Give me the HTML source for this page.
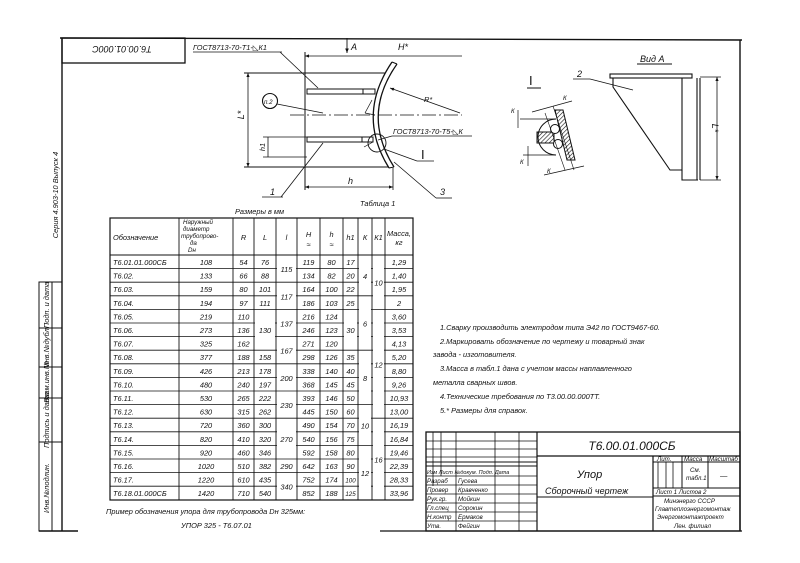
<!DOCTYPE html>
<html><head><meta charset="utf-8"><style>
html,body{margin:0;padding:0;background:#fff;}
svg{display:block;}
text{font-family:"Liberation Sans","DejaVu Sans",sans-serif;font-style:italic;fill:#111;}
.t{font-size:9px;}
.s{font-size:7.4px;}
.xs{font-size:6.2px;}
</style></head><body>
<svg width="800" height="563" viewBox="0 0 800 563" xmlns="http://www.w3.org/2000/svg">
<defs>
<marker id="ar" viewBox="0 0 10 10" refX="10" refY="5" markerWidth="7" markerHeight="5" orient="auto-start-reverse"><path d="M0,1 L10,5 L0,9 z" fill="#111"/></marker>
<pattern id="hat" width="3" height="3" patternUnits="userSpaceOnUse" patternTransform="rotate(45)"><line x1="0" y1="0" x2="0" y2="3" stroke="#111" stroke-width="1.2"/></pattern>
</defs>
<g stroke="#111" fill="none" stroke-width="1">
<line x1="60" y1="38" x2="742" y2="40" stroke-width="1.4"/>
<line x1="62" y1="38" x2="62" y2="531" stroke-width="1.4"/>
<line x1="740" y1="40" x2="740" y2="531" stroke-width="1.4"/>
<line x1="39" y1="531" x2="78" y2="531" stroke-width="1.4"/>
<line x1="380" y1="531" x2="742" y2="531" stroke-width="1.2"/>
<rect x="62" y="38" width="123" height="25" stroke-width="1.3"/>
<rect x="39" y="282" width="23" height="249"/>
<line x1="52" y1="282" x2="52" y2="531"/>
<line x1="39" y1="328" x2="62" y2="328"/>
<line x1="39" y1="367" x2="62" y2="367"/>
<line x1="39" y1="398" x2="62" y2="398"/>
<line x1="39" y1="442" x2="62" y2="442"/>

<line x1="305" y1="52" x2="305" y2="190"/>
<line x1="244" y1="73" x2="385" y2="73"/>
<line x1="244" y1="167" x2="388" y2="167"/>
<line x1="248" y1="73" x2="248" y2="167" marker-start="url(#ar)" marker-end="url(#ar)" stroke-width="0.8"/>
<rect x="307" y="89" width="68" height="5"/>
<line x1="363" y1="89" x2="363" y2="94"/>
<rect x="307" y="137" width="66" height="5"/>
<line x1="362" y1="137" x2="362" y2="142"/>
<line x1="263" y1="137" x2="307" y2="137" stroke-width="0.8"/>
<line x1="263" y1="157" x2="307" y2="157" stroke-width="0.8"/>
<line x1="268" y1="137" x2="268" y2="157" stroke-width="0.8"/>
<line x1="290" y1="115" x2="462" y2="115" stroke-dasharray="14,3,2,3" stroke-width="0.8"/>
<path d="M392,62 Q356,115 389,168" stroke-width="1.3"/>
<path d="M397,64 Q361,115 394,167" stroke-width="1.3"/>
<line x1="392" y1="62" x2="397" y2="64"/>
<line x1="389" y1="168" x2="394" y2="167"/>
<line x1="305" y1="56" x2="462" y2="56" marker-start="url(#ar)" stroke-width="0.8"/>
<line x1="347" y1="38" x2="347" y2="53" marker-end="url(#ar)" stroke-width="0.9"/>
<line x1="460" y1="113" x2="390" y2="88" marker-end="url(#ar)" stroke-width="0.8"/>
<line x1="193" y1="52" x2="282" y2="52" stroke-width="0.8"/>
<line x1="280" y1="52" x2="318" y2="88" stroke-width="0.8"/>
<circle cx="270" cy="101" r="7.5" stroke-width="1.1"/>
<line x1="277" y1="104" x2="323" y2="113" stroke-width="0.8"/>
<line x1="323" y1="143" x2="281" y2="197" stroke-width="0.8"/>
<line x1="262" y1="197" x2="283" y2="197" stroke-width="0.8"/>
<circle cx="377" cy="143" r="9" stroke-width="0.9"/>
<line x1="384" y1="149" x2="417" y2="161" stroke-width="0.8"/>
<line x1="417" y1="161" x2="434" y2="161" stroke-width="0.8"/>
<line x1="392" y1="136" x2="472" y2="136" stroke-width="0.8"/>
<line x1="392" y1="136" x2="378" y2="140" stroke-width="0.8"/>
<line x1="365" y1="113" x2="372" y2="100" stroke-width="0.7"/>
<line x1="365" y1="113" x2="375" y2="115" stroke-width="0.7"/>
<line x1="364" y1="147" x2="373" y2="142" stroke-width="0.7"/>
<line x1="305" y1="187" x2="393" y2="187" marker-start="url(#ar)" marker-end="url(#ar)" stroke-width="0.8"/>
<line x1="393" y1="168" x2="393" y2="190" stroke-width="0.8"/>
<line x1="394" y1="162" x2="436" y2="198" stroke-width="0.8"/>
<line x1="436" y1="198" x2="452" y2="198" stroke-width="0.8"/>

<line x1="527" y1="88" x2="541" y2="88"/>
<path d="M556,119 A18,18 0 0 0 556,155" stroke-width="1"/>
<line x1="520" y1="119" x2="556" y2="119" stroke-width="0.7"/>
<line x1="523" y1="155" x2="556" y2="155" stroke-width="0.7"/>
<rect x="537" y="132" width="17" height="11" fill="url(#hat)"/>
<polygon points="555,110 563,110 575,160 567,160" fill="url(#hat)"/>
<circle cx="555" cy="129" r="4.5" fill="#fff"/>
<circle cx="558" cy="144" r="4.5" fill="#fff"/>
<line x1="518" y1="110" x2="518" y2="128" stroke-width="0.7"/>
<line x1="528" y1="146" x2="528" y2="166" stroke-width="0.7"/>
<line x1="532" y1="112" x2="572" y2="101" stroke-width="0.7"/>
<line x1="544" y1="175" x2="584" y2="166" stroke-width="0.7"/>
<line x1="545" y1="113" x2="565" y2="170" stroke-width="0.6"/>
<line x1="553" y1="106" x2="574" y2="170" stroke-width="0.6"/>

<line x1="637" y1="64" x2="672" y2="64"/>
<rect x="610" y="74" width="82" height="4" stroke-width="1.1"/>
<polyline points="613,78 613,87 670,170 682,170 682,78" stroke-width="1.1"/>
<polyline points="682,170 682,180 698,180" stroke-width="1.1"/>
<line x1="697" y1="78" x2="697" y2="180" stroke-width="1.1"/>
<line x1="700" y1="78" x2="700" y2="180" stroke-width="1.1"/>
<line x1="700" y1="77" x2="721" y2="77" stroke-width="0.7"/>
<line x1="700" y1="180" x2="721" y2="180" stroke-width="0.7"/>
<line x1="717" y1="77" x2="717" y2="180" marker-start="url(#ar)" marker-end="url(#ar)" stroke-width="0.8"/>
<line x1="573" y1="79" x2="590" y2="79" stroke-width="0.8"/>
<line x1="590" y1="79" x2="633" y2="90" stroke-width="0.8"/>

<rect x="110" y="218" width="303" height="282" stroke-width="1.2"/>
<line x1="110" y1="255" x2="413" y2="255" stroke-width="1.1"/>
<g stroke-width="0.9">
<line x1="179" y1="218" x2="179" y2="500"/><line x1="233" y1="218" x2="233" y2="500"/>
<line x1="254" y1="218" x2="254" y2="500"/><line x1="276" y1="218" x2="276" y2="500"/>
<line x1="297" y1="218" x2="297" y2="500"/><line x1="320" y1="218" x2="320" y2="500"/>
<line x1="343" y1="218" x2="343" y2="500"/><line x1="358" y1="218" x2="358" y2="500"/>
<line x1="372" y1="218" x2="372" y2="500"/><line x1="385" y1="218" x2="385" y2="500"/>
</g>
<g stroke-width="0.8">
<line x1="110" y1="268.6" x2="413" y2="268.6"/><line x1="110" y1="282.2" x2="413" y2="282.2"/>
<line x1="110" y1="295.8" x2="413" y2="295.8"/><line x1="110" y1="309.4" x2="413" y2="309.4"/>
<line x1="110" y1="323" x2="413" y2="323"/><line x1="110" y1="336.6" x2="413" y2="336.6"/>
<line x1="110" y1="350.2" x2="413" y2="350.2"/><line x1="110" y1="363.8" x2="413" y2="363.8"/>
<line x1="110" y1="377.4" x2="413" y2="377.4"/><line x1="110" y1="391" x2="413" y2="391"/>
<line x1="110" y1="404.6" x2="413" y2="404.6"/><line x1="110" y1="418.2" x2="413" y2="418.2"/>
<line x1="110" y1="431.8" x2="413" y2="431.8"/><line x1="110" y1="445.4" x2="413" y2="445.4"/>
<line x1="110" y1="459" x2="413" y2="459"/><line x1="110" y1="472.6" x2="413" y2="472.6"/>
<line x1="110" y1="486.2" x2="413" y2="486.2"/>
</g>
</g>
<g fill="#fff">
<rect x="255" y="310.4" width="20" height="38.8"/>
<rect x="277" y="256" width="19" height="25.2"/>
<rect x="277" y="283.2" width="19" height="25.2"/>
<rect x="277" y="310.4" width="19" height="25.2"/>
<rect x="277" y="337.6" width="19" height="25.2"/>
<rect x="277" y="364.8" width="19" height="25.2"/>
<rect x="277" y="392" width="19" height="25.2"/>
<rect x="277" y="419.2" width="19" height="38.8"/>
<rect x="277" y="473.6" width="19" height="25.2"/>
<rect x="344" y="310.4" width="13" height="38.8"/>
<rect x="359" y="256" width="12" height="38.8"/>
<rect x="359" y="296.8" width="12" height="52.4"/>
<rect x="359" y="351.2" width="12" height="52.4"/>
<rect x="359" y="405.6" width="12" height="38.8"/>
<rect x="359" y="446.4" width="12" height="52.4"/>
<rect x="373" y="256" width="11" height="52.4"/>
<rect x="373" y="310.4" width="11" height="106.8"/>
<rect x="373" y="419.2" width="11" height="79.6"/>
</g>

<g stroke="#111" fill="none" stroke-width="1">
<rect x="426" y="432" width="314" height="99" stroke-width="1.3"/>
<line x1="537" y1="432" x2="537" y2="531" stroke-width="1.2"/>
<line x1="537" y1="456" x2="740" y2="456" stroke-width="1.2"/>
<line x1="653" y1="456" x2="653" y2="531" stroke-width="1.2"/>
<line x1="537" y1="497" x2="653" y2="497"/>
<line x1="653" y1="462" x2="740" y2="462"/>
<line x1="653" y1="488" x2="740" y2="488"/>
<line x1="653" y1="496" x2="740" y2="496"/>
<line x1="658" y1="462" x2="658" y2="488" stroke-width="0.8"/>
<line x1="666" y1="462" x2="666" y2="488" stroke-width="0.8"/>
<line x1="673" y1="462" x2="673" y2="488" stroke-width="0.8"/>
<line x1="682" y1="456" x2="682" y2="488"/>
<line x1="708" y1="456" x2="708" y2="488"/>
<g stroke-width="0.8">
<line x1="433" y1="432" x2="433" y2="486"/>
<line x1="441" y1="432" x2="441" y2="476"/>
<line x1="456" y1="432" x2="456" y2="531"/>
<line x1="495" y1="432" x2="495" y2="531"/>
<line x1="519" y1="432" x2="519" y2="531"/>
<line x1="426" y1="441" x2="537" y2="441"/>
<line x1="426" y1="449" x2="537" y2="449"/>
<line x1="426" y1="457" x2="537" y2="457"/>
<line x1="426" y1="462" x2="537" y2="462" stroke-width="1.1"/>
<line x1="426" y1="466" x2="537" y2="466" stroke-width="1.1"/>
<line x1="426" y1="476" x2="537" y2="476"/>
<line x1="426" y1="485" x2="537" y2="485"/>
<line x1="426" y1="494" x2="537" y2="494"/>
<line x1="426" y1="503" x2="537" y2="503"/>
<line x1="426" y1="512" x2="537" y2="512"/>
<line x1="426" y1="521" x2="537" y2="521"/>
</g>
</g>

<text x="122" y="52" class="t" font-size="10" text-anchor="middle" transform="rotate(180 122 49)">Т6.00.01.000С</text>
<text class="s" transform="translate(49 305) rotate(-90)" text-anchor="middle">Подп. и дата</text>
<text class="s" transform="translate(49 347) rotate(-90)" text-anchor="middle">Инв.№дубл.</text>
<text class="s" transform="translate(49 382) rotate(-90)" text-anchor="middle">Взам.инв.№</text>
<text class="s" transform="translate(49 420) rotate(-90)" text-anchor="middle">Подпись и дата</text>
<text class="s" transform="translate(49 488) rotate(-90)" text-anchor="middle">Инв.№подлин.</text>
<text class="s" transform="translate(58 195) rotate(-90)" text-anchor="middle">Серия 4.903-10    Выпуск 4</text>

<text x="193" y="50" class="s">ГОСТ8713-70-Т1-◺К1</text>
<text x="351" y="50" class="t">А</text>
<text x="398" y="50" class="t">Н*</text>
<text x="424" y="102" class="s">R*</text>
<text x="264" y="104" class="xs">п.2</text>
<text class="t" transform="translate(244 115) rotate(-90)" text-anchor="middle">L*</text>
<text class="s" transform="translate(265 147) rotate(-90)" text-anchor="middle">h1</text>
<text x="393" y="134" class="s">ГОСТ8713-70-Т5-◺К</text>
<text x="421" y="159" font-size="13" style="font-style:normal">I</text>
<text x="348" y="184" class="t">h</text>
<text x="270" y="195" class="t">1</text>
<text x="440" y="195" class="t">3</text>
<text x="360" y="206" class="s">Таблица 1</text>
<text x="235" y="214" class="s">Размеры в мм</text>

<text x="529" y="85" font-size="13" style="font-style:normal">I</text>
<text x="563" y="100" class="xs">К</text>
<text x="511" y="113" class="xs">К</text>
<text x="520" y="164" class="xs">К</text>
<text x="547" y="173" class="xs">К</text>
<text x="640" y="62" class="t">Вид А</text>
<text x="577" y="77" class="t">2</text>
<text class="t" transform="translate(712 128) rotate(90)" text-anchor="middle">L*</text>

<text x="113" y="240" class="s">Обозначение</text>
<text x="183" y="224" class="xs">Наружный</text>
<text x="183" y="231" class="xs">диаметр</text>
<text x="181" y="238" class="xs">трубопрово-</text>
<text x="190" y="245" class="xs">да</text>
<text x="188" y="252" class="xs">Dн</text>
<text x="243.5" y="240" class="s" text-anchor="middle">R</text>
<text x="265" y="240" class="s" text-anchor="middle">L</text>
<text x="286.5" y="240" class="s" text-anchor="middle">l</text>
<text x="308.5" y="237" class="s" text-anchor="middle">Н</text><text x="308.5" y="247" class="s" text-anchor="middle">≈</text>
<text x="331.5" y="237" class="s" text-anchor="middle">h</text><text x="331.5" y="247" class="s" text-anchor="middle">≈</text>
<text x="350.5" y="240" class="s" text-anchor="middle">h1</text>
<text x="365" y="240" class="s" text-anchor="middle">К</text>
<text x="378.5" y="240" class="s" text-anchor="middle">К1</text>
<text x="399" y="236" class="s" text-anchor="middle">Масса,</text>
<text x="399" y="245" class="s" text-anchor="middle">кг</text>

<text x="113" y="265" class="s">Т6.01.01.000СБ</text>
<text x="113" y="278.6" class="s">Т6.02.</text>
<text x="113" y="292.2" class="s">Т6.03.</text>
<text x="113" y="305.8" class="s">Т6.04.</text>
<text x="113" y="319.4" class="s">Т6.05.</text>
<text x="113" y="333" class="s">Т6.06.</text>
<text x="113" y="346.6" class="s">Т6.07.</text>
<text x="113" y="360.2" class="s">Т6.08.</text>
<text x="113" y="373.8" class="s">Т6.09.</text>
<text x="113" y="387.4" class="s">Т6.10.</text>
<text x="113" y="401" class="s">Т6.11.</text>
<text x="113" y="414.6" class="s">Т6.12.</text>
<text x="113" y="428.2" class="s">Т6.13.</text>
<text x="113" y="441.8" class="s">Т6.14.</text>
<text x="113" y="455.4" class="s">Т6.15.</text>
<text x="113" y="469" class="s">Т6.16.</text>
<text x="113" y="482.6" class="s">Т6.17.</text>
<text x="113" y="496.2" class="s">Т6.18.01.000СБ</text>
<g text-anchor="middle">
<text x="206" y="265" class="s">108</text><text x="206" y="278.6" class="s">133</text><text x="206" y="292.2" class="s">159</text><text x="206" y="305.8" class="s">194</text><text x="206" y="319.4" class="s">219</text><text x="206" y="333" class="s">273</text><text x="206" y="346.6" class="s">325</text><text x="206" y="360.2" class="s">377</text><text x="206" y="373.8" class="s">426</text><text x="206" y="387.4" class="s">480</text><text x="206" y="401" class="s">530</text><text x="206" y="414.6" class="s">630</text><text x="206" y="428.2" class="s">720</text><text x="206" y="441.8" class="s">820</text><text x="206" y="455.4" class="s">920</text><text x="206" y="469" class="s">1020</text><text x="206" y="482.6" class="s">1220</text><text x="206" y="496.2" class="s">1420</text>

<text x="243.5" y="265" class="s">54</text><text x="243.5" y="278.6" class="s">66</text><text x="243.5" y="292.2" class="s">80</text><text x="243.5" y="305.8" class="s">97</text><text x="243.5" y="319.4" class="s">110</text><text x="243.5" y="333" class="s">136</text><text x="243.5" y="346.6" class="s">162</text><text x="243.5" y="360.2" class="s">188</text><text x="243.5" y="373.8" class="s">213</text><text x="243.5" y="387.4" class="s">240</text><text x="243.5" y="401" class="s">265</text><text x="243.5" y="414.6" class="s">315</text><text x="243.5" y="428.2" class="s">360</text><text x="243.5" y="441.8" class="s">410</text><text x="243.5" y="455.4" class="s">460</text><text x="243.5" y="469" class="s">510</text><text x="243.5" y="482.6" class="s">610</text><text x="243.5" y="496.2" class="s">710</text>

<text x="265" y="265" class="s">76</text><text x="265" y="278.6" class="s">88</text><text x="265" y="292.2" class="s">101</text><text x="265" y="305.8" class="s">111</text><text x="265" y="333" class="s">130</text><text x="265" y="360.2" class="s">158</text><text x="265" y="373.8" class="s">178</text><text x="265" y="387.4" class="s">197</text><text x="265" y="401" class="s">222</text><text x="265" y="414.6" class="s">262</text><text x="265" y="428.2" class="s">300</text><text x="265" y="441.8" class="s">320</text><text x="265" y="455.4" class="s">346</text><text x="265" y="469" class="s">382</text><text x="265" y="482.6" class="s">435</text><text x="265" y="496.2" class="s">540</text>

<text x="286.5" y="272" class="s">115</text><text x="286.5" y="299.3" class="s">117</text><text x="286.5" y="326.5" class="s">137</text><text x="286.5" y="353.7" class="s">167</text><text x="286.5" y="381" class="s">200</text><text x="286.5" y="408" class="s">230</text><text x="286.5" y="442" class="s">270</text><text x="286.5" y="469" class="s">290</text><text x="286.5" y="489.7" class="s">340</text>

<text x="308.5" y="265" class="s">119</text><text x="308.5" y="278.6" class="s">134</text><text x="308.5" y="292.2" class="s">164</text><text x="308.5" y="305.8" class="s">186</text><text x="308.5" y="319.4" class="s">216</text><text x="308.5" y="333" class="s">246</text><text x="308.5" y="346.6" class="s">271</text><text x="308.5" y="360.2" class="s">298</text><text x="308.5" y="373.8" class="s">338</text><text x="308.5" y="387.4" class="s">368</text><text x="308.5" y="401" class="s">393</text><text x="308.5" y="414.6" class="s">445</text><text x="308.5" y="428.2" class="s">490</text><text x="308.5" y="441.8" class="s">540</text><text x="308.5" y="455.4" class="s">592</text><text x="308.5" y="469" class="s">642</text><text x="308.5" y="482.6" class="s">752</text><text x="308.5" y="496.2" class="s">852</text>

<text x="331.5" y="265" class="s">80</text><text x="331.5" y="278.6" class="s">82</text><text x="331.5" y="292.2" class="s">100</text><text x="331.5" y="305.8" class="s">103</text><text x="331.5" y="319.4" class="s">124</text><text x="331.5" y="333" class="s">123</text><text x="331.5" y="346.6" class="s">120</text><text x="331.5" y="360.2" class="s">126</text><text x="331.5" y="373.8" class="s">140</text><text x="331.5" y="387.4" class="s">145</text><text x="331.5" y="401" class="s">146</text><text x="331.5" y="414.6" class="s">150</text><text x="331.5" y="428.2" class="s">154</text><text x="331.5" y="441.8" class="s">156</text><text x="331.5" y="455.4" class="s">158</text><text x="331.5" y="469" class="s">163</text><text x="331.5" y="482.6" class="s">174</text><text x="331.5" y="496.2" class="s">188</text>

<text x="350.5" y="265" class="s">17</text><text x="350.5" y="278.6" class="s">20</text><text x="350.5" y="292.2" class="s">22</text><text x="350.5" y="305.8" class="s">25</text><text x="350.5" y="333" class="s">30</text><text x="350.5" y="360.2" class="s">35</text><text x="350.5" y="373.8" class="s">40</text><text x="350.5" y="387.4" class="s">45</text><text x="350.5" y="401" class="s">50</text><text x="350.5" y="414.6" class="s">60</text><text x="350.5" y="428.2" class="s">70</text><text x="350.5" y="441.8" class="s">75</text><text x="350.5" y="455.4" class="s">80</text><text x="350.5" y="469" class="s">90</text><text x="350.5" y="482.6" class="xs">100</text><text x="350.5" y="496.2" class="xs">125</text>

<text x="365" y="279" class="s">4</text><text x="365" y="326.5" class="s">6</text><text x="365" y="381" class="s">8</text><text x="365" y="428.5" class="s">10</text><text x="365" y="476" class="s">12</text>
<text x="378.5" y="285.7" class="s">10</text><text x="378.5" y="367.3" class="s">12</text><text x="378.5" y="462.5" class="s">16</text>

<text x="399" y="265" class="s">1,29</text><text x="399" y="278.6" class="s">1,40</text><text x="399" y="292.2" class="s">1,95</text><text x="399" y="305.8" class="s">2</text><text x="399" y="319.4" class="s">3,60</text><text x="399" y="333" class="s">3,53</text><text x="399" y="346.6" class="s">4,13</text><text x="399" y="360.2" class="s">5,20</text><text x="399" y="373.8" class="s">8,80</text><text x="399" y="387.4" class="s">9,26</text><text x="399" y="401" class="s">10,93</text><text x="399" y="414.6" class="s">13,00</text><text x="399" y="428.2" class="s">16,19</text><text x="399" y="441.8" class="s">16,84</text><text x="399" y="455.4" class="s">19,46</text><text x="399" y="469" class="s">22,39</text><text x="399" y="482.6" class="s">28,33</text><text x="399" y="496.2" class="s">33,96</text>
</g>

<text x="106" y="514" class="s">Пример обозначения упора для трубопровода Dн 325мм:</text>
<text x="181" y="528" class="s">УПОР 325 - Т6.07.01</text>

<text x="440" y="330" class="s">1.Сварку производить электродом типа Э42 по ГОСТ9467-60.</text>
<text x="440" y="344" class="s">2.Маркировать обозначение по чертежу и товарный знак</text>
<text x="433" y="357" class="s">завода - изготовителя.</text>
<text x="440" y="371" class="s">3.Масса в табл.1 дана с учетом массы наплавленного</text>
<text x="433" y="385" class="s">металла сварных швов.</text>
<text x="440" y="399" class="s">4.Технические требования по Т3.00.00.000ТТ.</text>
<text x="440" y="413" class="s">5.* Размеры для справок.</text>

<text x="632" y="450" font-size="12" text-anchor="middle">Т6.00.01.000СБ</text>
<text x="577" y="478" font-size="11">Упор</text>
<text x="545" y="494" class="t">Сборочный   чертеж</text>
<text x="427" y="474" font-size="5.5">Изм Лист №докум.  Подп.  Дата</text>
<text x="427" y="483" class="xs">Разраб</text><text x="458" y="483" class="xs">Гусева</text>
<text x="427" y="492" class="xs">Провер</text><text x="458" y="492" class="xs">Кравченко</text>
<text x="427" y="501" class="xs">Рук.гр.</text><text x="458" y="501" class="xs">Мойкин</text>
<text x="427" y="510" class="xs">Гл.спец</text><text x="458" y="510" class="xs">Сорокин</text>
<text x="427" y="519" class="xs">Н.контр</text><text x="458" y="519" class="xs">Ермаков</text>
<text x="427" y="528" class="xs">Утв.</text><text x="458" y="528" class="xs">Фейгин</text>
<text x="657" y="461" class="xs">Лит.</text>
<text x="684" y="461" class="xs">Масса</text>
<text x="709" y="461" class="xs">Масштаб</text>
<text x="690" y="472" class="xs">См.</text>
<text x="686" y="480" class="xs">табл.1</text>
<text x="720" y="478" class="s">—</text>
<text x="656" y="494" class="xs">Лист 1   Листов 2</text>
<text x="664" y="503" class="xs">Минэнерго СССР</text>
<text x="655" y="511" class="xs">Главтеплоэнергомонтаж</text>
<text x="657" y="519" class="xs">Энергомонтажпроект</text>
<text x="674" y="528" class="xs">Лен. филиал</text>
</svg>
</body></html>
